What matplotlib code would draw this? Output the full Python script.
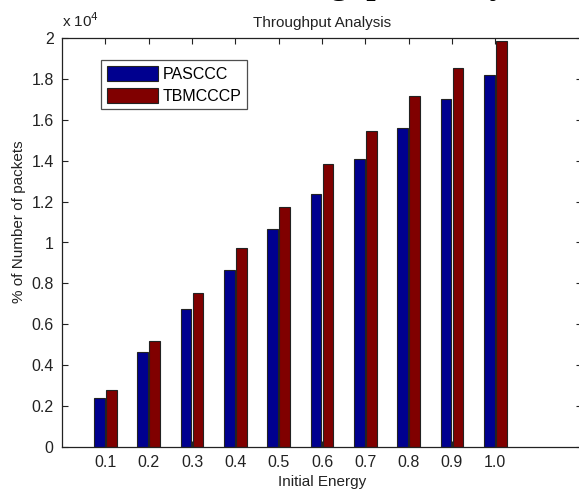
import matplotlib.pyplot as plt
import numpy as np

plt.rcParams['font.family'] = ['Liberation Sans', 'DejaVu Sans']

energy_labels = ["0.1", "0.2", "0.3", "0.4", "0.5", "0.6", "0.7", "0.8", "0.9", "1.0"]
pasccc = [2380, 4660, 6730, 8640, 10680, 12390, 14080, 15610, 17000, 18180]
tbmcccp = [2790, 5180, 7520, 9750, 11750, 13840, 15470, 17180, 18520, 19850]
y_ticks = [0, 2000, 4000, 6000, 8000, 10000, 12000, 14000, 16000, 18000, 20000]
y_tick_labels = ["0", "0.2", "0.4", "0.6", "0.8", "1", "1.2", "1.4", "1.6", "1.8", "2"]

W, H = 579, 490
fig = plt.figure(figsize=(W / 100, H / 100), dpi=100)
ax = fig.add_axes([62 / W, 43 / H, 520 / W, 409 / H])

x = np.arange(1, len(energy_labels) + 1)
ax.bar(x - 0.14, pasccc, width=0.25, color="#00008F", edgecolor="#222222",
       linewidth=0.8, label="PASCCC")
ax.bar(x + 0.14, tbmcccp, width=0.25, color="#800000", edgecolor="#222222",
       linewidth=0.8, label="TBMCCCP")

ax.set_xlim(0, 12)
ax.set_ylim(0, 20000)
ax.set_xticks(x)
ax.set_xticklabels(energy_labels)
ax.set_yticks(y_ticks)
ax.set_yticklabels(y_tick_labels)
ax.tick_params(direction="in", length=4, width=0.8, top=True, right=True,
               labelsize=11.5, colors="#222222", pad=6)
for s in ax.spines.values():
    s.set_linewidth(0.9)
    s.set_color("#222222")

ax.set_title("Throughput Analysis", fontsize=11, color="#222222", pad=8)
ax.set_xlabel("Initial Energy", fontsize=11, color="#222222", labelpad=3)
ax.set_ylabel("% of Number of packets", fontsize=11, color="#222222")
ax.yaxis.set_label_coords(-0.07, 0.55)

fig.text(62 / W, 1 - 27 / H, r"x 10$^4$", fontsize=11, color="#222222")

# clipped caption at the very top of the page
fig.text(391 / W, 1 + 6 / H, "Throughput Analysis", fontsize=24,
         fontweight="bold", family="Liberation Serif", ha="center",
         va="baseline")

leg = ax.legend(loc="upper left", bbox_to_anchor=(0.075, 0.945),
                fontsize=11.5, frameon=True, fancybox=False,
                handlelength=3.2, handleheight=1.1, handletextpad=0.3,
                labelspacing=0.35, borderpad=0.35, borderaxespad=0)
leg.get_frame().set_edgecolor("#222222")
leg.get_frame().set_linewidth(0.9)

fig.savefig("out.png", dpi=100)
